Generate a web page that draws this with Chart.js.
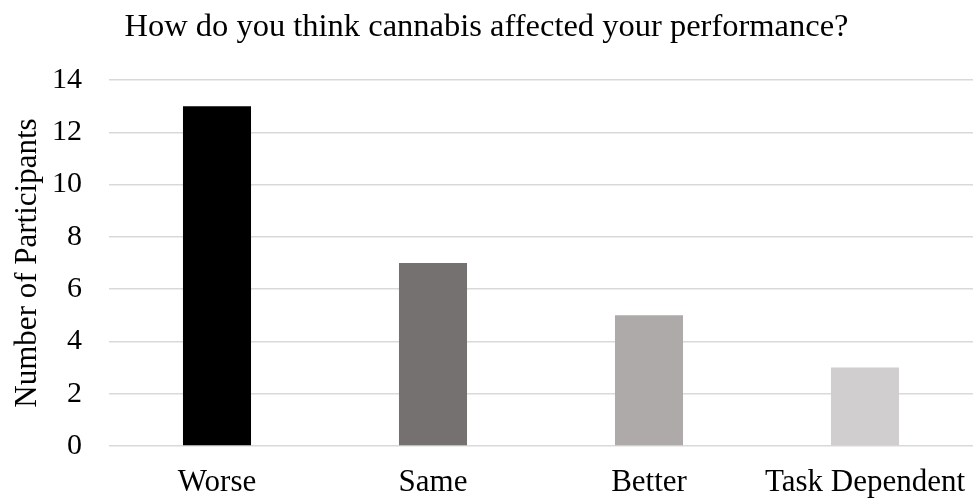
<!DOCTYPE html>
<html>
<head>
<meta charset="utf-8">
<script src="https://cdn.jsdelivr.net/npm/chart.js@4/dist/chart.umd.min.js"></script>
<style>
  html, body { margin: 0; padding: 0; background: #fff; }
  #wrap { width: 975px; height: 499px; }
</style>
</head>
<body>
<div id="wrap"><canvas id="perfChart"></canvas></div>
<script>
const categories = ['Worse', 'Same', 'Better', 'Task Dependent'];
const participants = [13, 7, 5, 3];
const barColors = ['#000000', '#767171', '#aeaaaa', '#d0cece'];
const yTicks = [0, 2, 4, 6, 8, 10, 12, 14];

const serif = "'Liberation Serif', 'Times New Roman', serif";

new Chart(document.getElementById('perfChart'), {
  type: 'bar',
  data: {
    labels: categories,
    datasets: [{
      data: participants,
      backgroundColor: barColors,
      barPercentage: 0.63,
      categoryPercentage: 0.5,
    }],
  },
  options: {
    responsive: true,
    maintainAspectRatio: false,
    animation: false,
    layout: { padding: { left: 0, right: 2, top: 0, bottom: 0 } },
    plugins: {
      legend: { display: false },
      tooltip: { enabled: false },
      title: {
        display: true,
        text: 'How do you think cannabis affected your performance?',
        color: '#000',
        font: { family: serif, size: 32.5, weight: 'normal' },
        padding: { top: 8, bottom: 33 },
      },
    },
    scales: {
      x: {
        grid: { display: false, drawTicks: false },
        border: { display: false },
        ticks: { color: '#000', font: { family: serif, size: 31 }, padding: 18, maxRotation: 0 },
        afterFit: (scale) => {
          // long last label would otherwise push the plot area inwards
          scale.height = 53;
          scale.paddingLeft = 0;
          scale.paddingRight = 0;
        },
      },
      y: {
        min: 0,
        max: 14,
        afterBuildTicks: (scale) => { scale.ticks = yTicks.map((v) => ({ value: v })); },
        grid: { color: '#d9d9d9', lineWidth: 1.5, drawTicks: false },
        border: { display: false },
        ticks: { color: '#000', font: { family: serif, size: 30 }, padding: 27 },
        title: {
          display: true,
          text: 'Number of Participants',
          color: '#000',
          font: { family: serif, size: 31 },
          padding: { top: 9, bottom: 0 },
        },
        afterFit: (scale) => { scale.width = 109; },
      },
    },
  },
});
</script>
</body>
</html>
